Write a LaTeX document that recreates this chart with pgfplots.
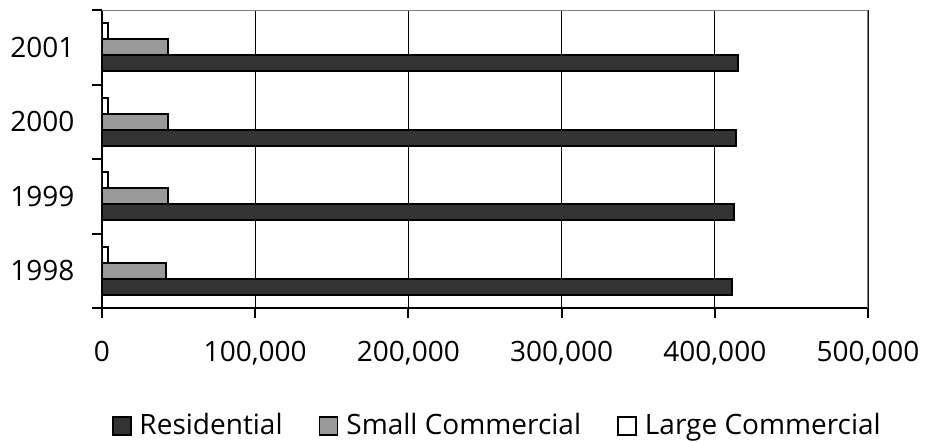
\documentclass[border=0pt]{standalone}
\usepackage{fontspec}
\setmainfont{Open Sans}
\usepackage{pgfplots}
\pgfplotsset{compat=1.18}

\definecolor{resid}{HTML}{333333}
\definecolor{smallc}{HTML}{999999}
\definecolor{frame}{HTML}{808080}

\begin{document}
\fontsize{28bp}{34bp}\selectfont
\begin{tikzpicture}
\path[use as bounding box] (-102bp,-134bp) rectangle (823bp,308bp);
\begin{axis}[
    at={(0,0)}, anchor=south west,
    scale only axis,
    width=766bp, height=298bp,
    xbar=0pt,
    bar width=0.215,
    xmin=0, xmax=500000,
    xtick={0,100000,...,500000},
    scaled x ticks=false,
    /pgf/number format/.cd, fixed, 1000 sep={,}, assume math mode=true,
    /pgfplots/.cd,
    ymin=-0.5, ymax=3.5,
    ytick={-0.5,0.5,...,3.5},
    y tick label as interval,
    yticklabels={1998,1999,2000,2001},
    axis x line*=bottom,
    axis y line*=left,
    axis line style={-, line width=2bp, black},
    tick align=outside,
    major tick length=10bp,
    tick style={line width=2bp, black},
    xmajorgrids,
    major grid style={line width=1bp, black},
    xticklabel style={yshift=-14bp},
    yticklabel style={xshift=-8bp},
    legend style={draw=none, fill=none, at={(0.516,-0.395)}, anchor=center,
        legend columns=-1, font=\fontsize{28bp}{34bp}\selectfont},
    legend image code/.code={\draw[#1, line width=1.8bp] (0bp,-9bp) rectangle (18bp,9bp);},
    /tikz/every odd column/.append style={column sep=6bp},
    /tikz/every even column/.append style={column sep=34bp},
]
\addplot[draw=black, line width=2bp, fill=resid] coordinates {(411000,0) (412500,1) (414000,2) (415000,3)};
\addplot[draw=black, line width=2bp, fill=smallc] coordinates {(41800,0) (42900,1) (42800,2) (42900,3)};
\addplot[draw=black, line width=2bp, fill=white] coordinates {(4000,0) (4000,1) (4000,2) (4000,3)};
\legend{Residential, Small Commercial, Large Commercial}
\draw[frame, line width=1.3bp] (rel axis cs:0,1) -- (rel axis cs:1,1) -- (rel axis cs:1,0);
\end{axis}
\end{tikzpicture}
\end{document}
